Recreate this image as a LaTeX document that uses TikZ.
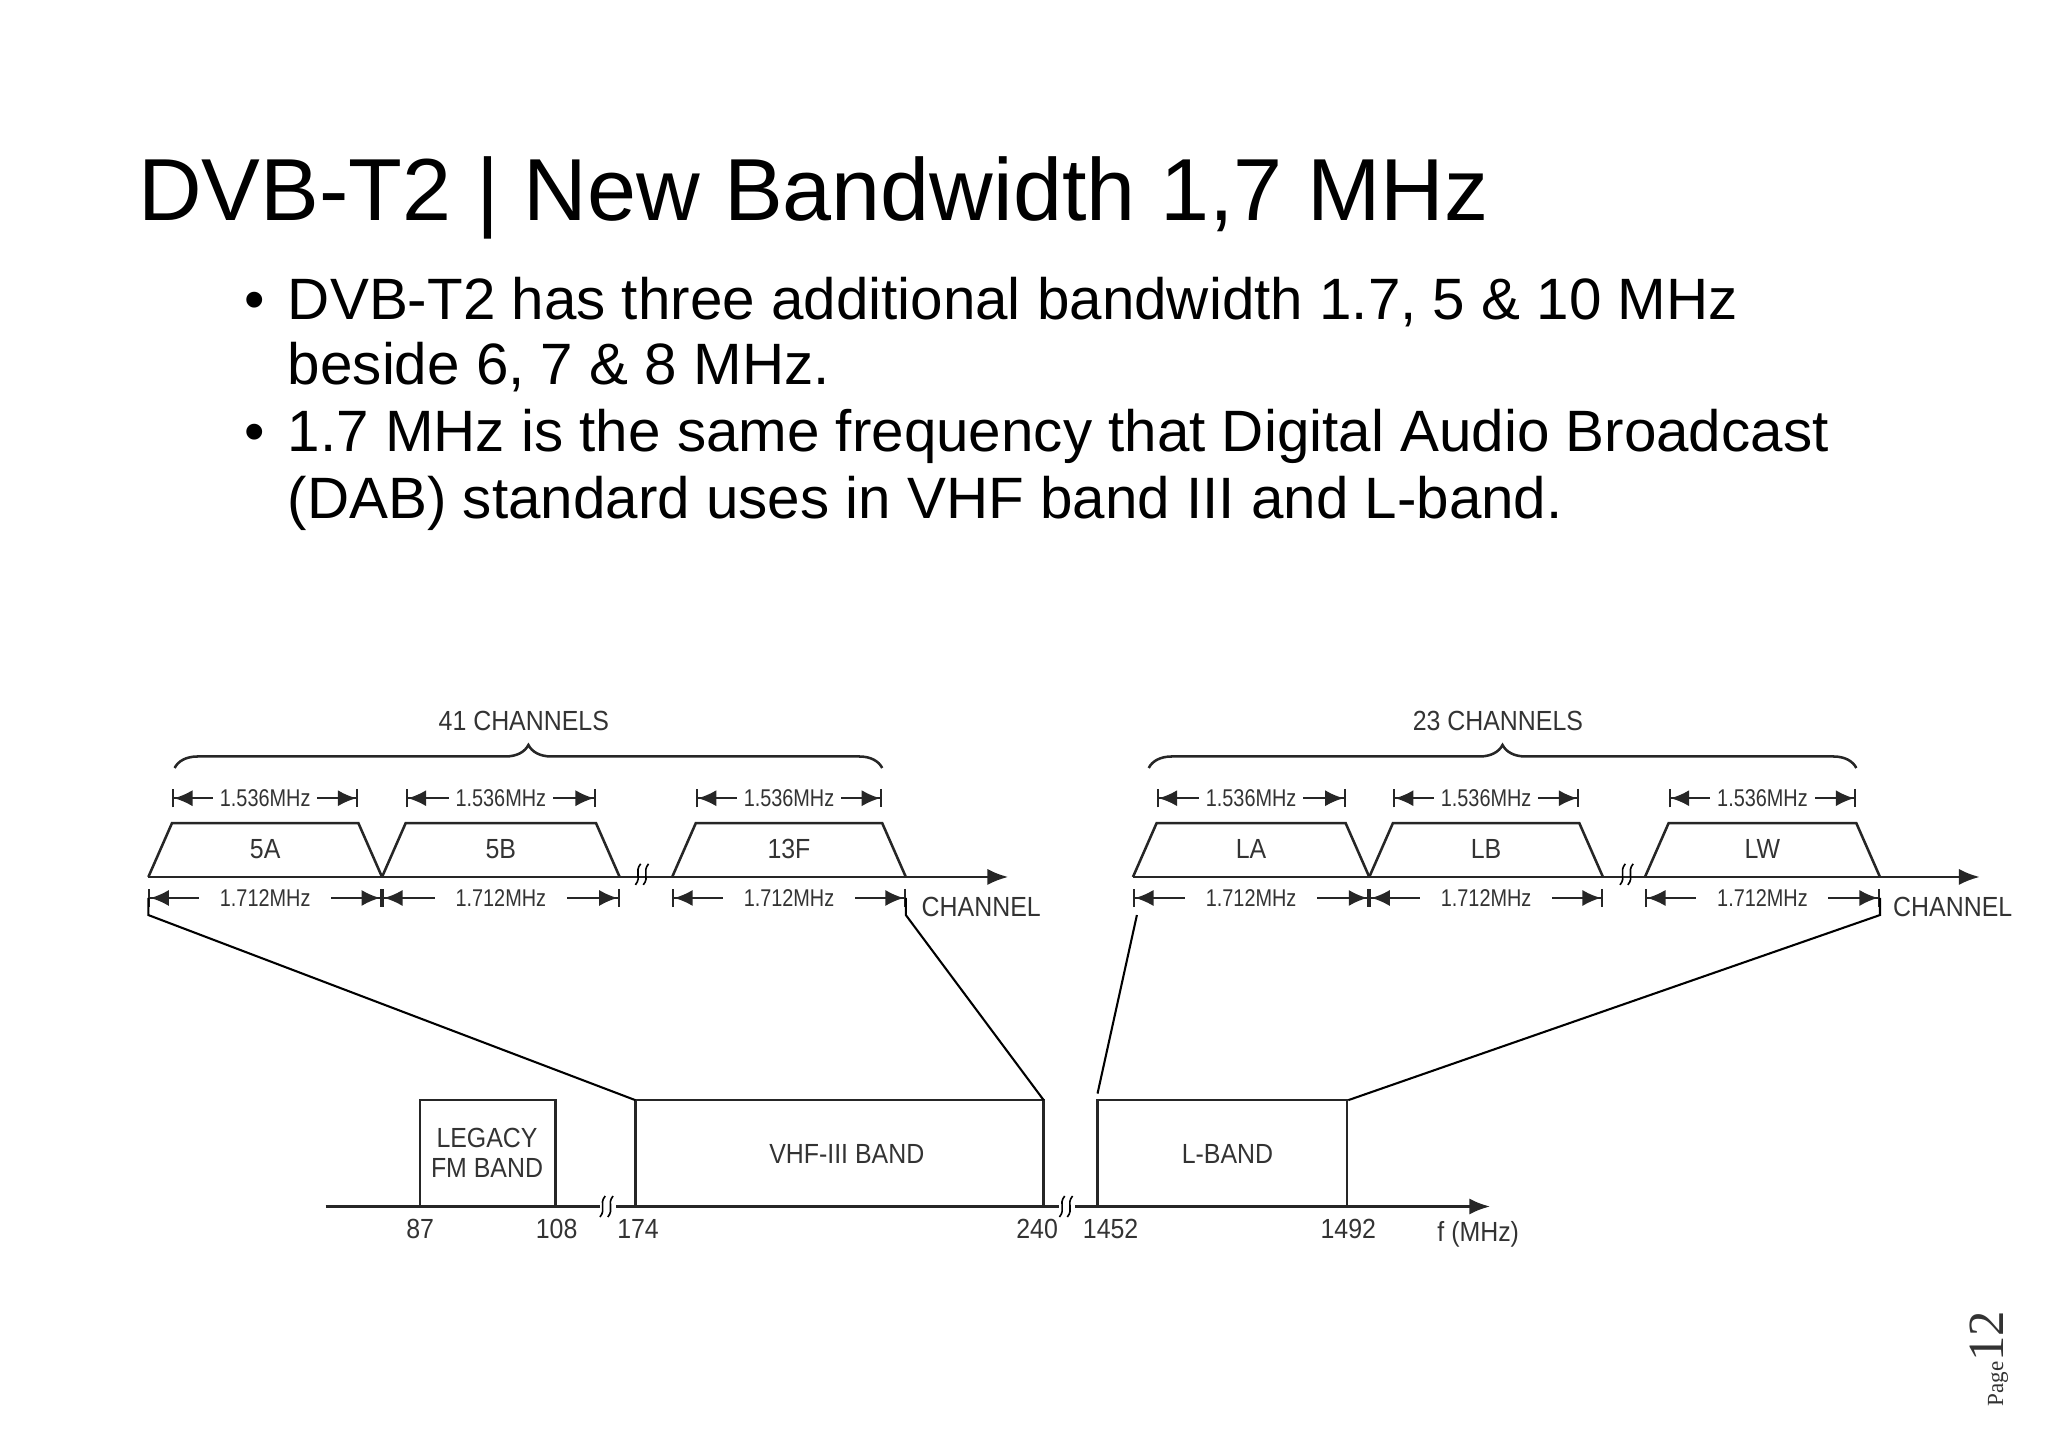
\documentclass[tikz,border=0pt]{standalone}
\usepackage{fontspec}
\setmainfont{Liberation Sans}
\newfontfamily\pgserif{Liberation Serif}
\usetikzlibrary{arrows.meta,decorations.pathreplacing}
\begin{document}
\begin{tikzpicture}[x=0.02cm,y=-0.02cm,
  ln/.style={line width=1.1pt,black!85},
  sm/.style={font=\fontsize{10.5}{11}\selectfont\addfontfeature{FakeStretch=0.82},text=black!80,inner sep=1pt},
  lab/.style={font=\fontsize{12}{13}\selectfont\addfontfeature{FakeStretch=0.9},text=black!80,inner sep=1pt},
  dim/.style={line width=0.9pt,black!85,{Bar[width=8pt]Latex[length=8pt,width=7pt]}-{Latex[length=8pt,width=7pt]Bar[width=8pt]}},
  wnode/.style={fill=white,inner sep=3pt}]
\useasboundingbox (0,0) rectangle (1560,1103);
% title and bullets
\node[anchor=base west,inner sep=0,font=\fontsize{38.2}{42}\selectfont] (title) at (105,168) {DVB-T2 | New Bandwidth 1,7 MHz};
\begin{scope}[font=\fontsize{25.3}{28}\selectfont]
\node[anchor=base west,inner sep=0] (b1) at (186,243) {•};
\node[anchor=base west,inner sep=0] (t1) at (219,243) {DVB-T2 has three additional bandwidth 1.7, 5 \& 10 MHz};
\node[anchor=base west,inner sep=0] (t2) at (219,293) {beside 6, 7 \& 8 MHz.};
\node[anchor=base west,inner sep=0] (b2) at (186,344) {•};
\node[anchor=base west,inner sep=0] (t3) at (219,344) {1.7 MHz is the same frequency that Digital Audio Broadcast};
\node[anchor=base west,inner sep=0] (t4) at (219,395) {(DAB) standard uses in VHF band III and L-band.};
\end{scope}
% channel axes
\draw[ln,-{Latex[length=9pt,width=7pt]}] (113,668) -- (768,668);
\draw[ln,-{Latex[length=9pt,width=7pt]}] (863,668) -- (1508,668);
\node[lab,anchor=west] (ch1) at (700,691) {CHANNEL};
\node[lab,anchor=west] (ch2) at (1440,691) {CHANNEL};
% trapezoids
\foreach \a/\b/\t/\n in {113/291/5A/a,291/472/5B/b,512/690/13F/c,863/1043/LA/d,1043/1221/LB/e,1253/1432/LW/f}{
  \draw[ln] (\a,668) -- ({\a+18},627) -- ({\b-18},627) -- (\b,668);
  \node[lab] (tr\n) at ({(\a+\b)/2},647) {\t};
  \draw[dim] ({\a+18},608) -- ({\b-18},608) node[midway,sm,wnode] (d1\n) {1.536MHz};
  \draw[dim] (\a,684) -- (\b,684) node[midway,sm,wnode,inner xsep=9pt] (d2\n) {1.712MHz};
}
% break marks on channel axes
\foreach \x in {490,1240}{
  \draw[line width=0.7pt] (\x-6,674) .. controls (\x-1,668) and (\x-7,664) .. (\x-2,658);
  \draw[line width=0.7pt] (\x,674) .. controls (\x+5,668) and (\x-1,664) .. (\x+4,658);
}
% braces
\draw[ln,decorate,decoration={brace,amplitude=10pt}] (133,585) -- (672,585);
\node[lab] (c41) at (399,549) {41 CHANNELS};
\draw[ln,decorate,decoration={brace,amplitude=10pt}] (875,585) -- (1414,585);
\node[lab] (c23) at (1141,549) {23 CHANNELS};
% bottom axis and bands
\draw[ln,-{Latex[length=9pt,width=7pt]}] (248,919) -- (1135,919);
\draw[ln] (320,919) -- (320,838) -- (423,838) -- (423,919);
\draw[ln] (484,919) -- (484,838) -- (795,838) -- (795,919);
\draw[ln] (836,919) -- (836,838) -- (1026,838) -- (1026,919);
\node[lab,align=center] (fm) at (371,878) {LEGACY\\FM BAND};
\node[lab] (vhf) at (645,879) {VHF-III BAND};
\node[lab] (lb) at (935,879) {L-BAND};
\foreach \x in {463,813}{
  \fill[white] (\x-6,912) rectangle (\x+6,926);
  \draw[line width=0.7pt] (\x-6,927) .. controls (\x-1,921) and (\x-7,917) .. (\x-2,911);
  \draw[line width=0.7pt] (\x,927) .. controls (\x+5,921) and (\x-1,917) .. (\x+4,911);
}
\foreach \x/\t/\n in {320/87/a,424/108/b,486/174/c,790/240/d,846/1452/e,1027/1492/f}
  \node[lab] (n\n) at (\x,936) {\t};
\node[lab] (fmhz) at (1126,940) {f (MHz)};
% zoom lines
\draw[line width=0.9pt] (113,684) -- (113,697) -- (484,838);
\draw[line width=0.9pt] (690,684) -- (690,697) -- (795,838);
\draw[line width=0.9pt] (866,697) -- (836,833);
\draw[line width=0.9pt] (1432,684) -- (1432,697) -- (1027,838);
% page number
\node[rotate=90,anchor=south,inner sep=0,text=black!80] (pg) at (1530,1035) {\pgserif{\fontsize{10}{10}\selectfont Page}\fontsize{22}{22}\selectfont\pgserif 12};
\end{tikzpicture}
\end{document}
